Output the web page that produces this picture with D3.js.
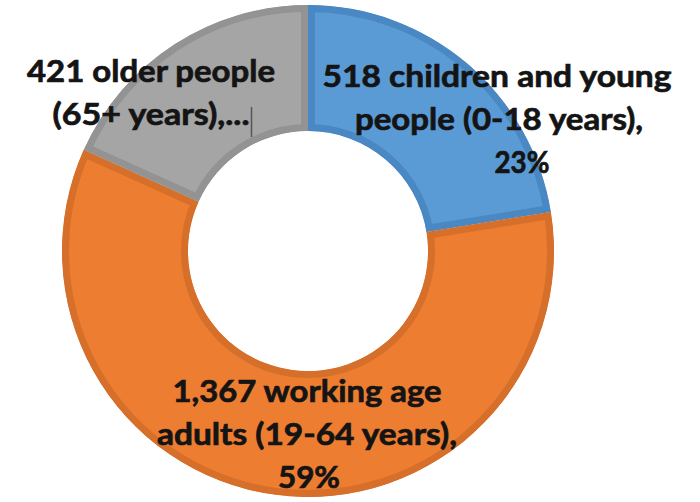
<!DOCTYPE html>
<html>
<head>
<meta charset="utf-8">
<script src="https://cdn.jsdelivr.net/npm/d3@7"></script>
<style>
  html, body { margin: 0; padding: 0; background: #ffffff; }
  svg { display: block; }
</style>
</head>
<body>
<svg id="chart" width="700" height="502"></svg>
<script>
// ---- data ----
const categories = ["children and young people (0-18 years)", "working age adults (19-64 years)", "older people (65+ years)"];
const values = [518, 1367, 421];
const labelLines = [
  ["518 children and young", "people (0-18 years),", "23%"],
  ["1,367 working age", "adults (19-64 years),", "59%"],
  ["421 older people", "(65+ years),..."]
];

// ---- styles / layout ----
const fills   = ["#5b9bd5", "#ed7d31", "#a5a5a5"];
const borders = ["#4a88c4", "#d56f2a", "#939393"];
const cx = 308, cy = 251, outerR = 246, innerR = 120, border = 7;
// label line anchors (center x, baseline y) and fitted widths
const labelLayout = [
  { x: [497, 499, 522], y: [87, 130, 173], w: [349, 288, 55] },
  { x: [307, 307, 309], y: [402, 445, 488], w: [269, 300, 62] },
  { x: [151, 151],      y: [82, 125],       w: [248, 197] }
];

const svg = d3.select("#chart");
const data = categories.map((c, i) => ({ category: c, value: values[i], i }));

const pie = d3.pie().value(d => d.value).sort(null).startAngle(0).endAngle(2 * Math.PI);
const arc = d3.arc().innerRadius(innerR).outerRadius(outerR);
const arcs = pie(data);

const g = svg.append("g").attr("transform", `translate(${cx},${cy})`);
const defs = svg.append("defs");

arcs.forEach((a, k) => {
  defs.append("clipPath").attr("id", "clip" + k)
    .append("path").attr("d", arc(a));
});

g.selectAll("path.slice")
  .data(arcs)
  .join("path")
  .attr("class", "slice")
  .attr("d", arc)
  .attr("fill", d => fills[d.data.i])
  .attr("stroke", d => borders[d.data.i])
  .attr("stroke-width", border * 2)
  .attr("stroke-linejoin", "miter")
  .attr("clip-path", (d, k) => `url(#clip${k})`);

// ---- labels ----
const labels = svg.append("g")
  .attr("font-family", "Lato, 'Open Sans', sans-serif")
  .attr("font-weight", "bold")
  .attr("font-size", 31)
  .attr("fill", "#141414")
  .attr("stroke", "#141414")
  .attr("stroke-width", 0.7);

labelLines.forEach((lines, i) => {
  const L = labelLayout[i];
  lines.forEach((t, j) => {
    labels.append("text")
      .attr("x", L.x[j])
      .attr("y", L.y[j])
      .attr("text-anchor", "middle")
      .attr("textLength", L.w[j])
      .attr("lengthAdjust", "spacingAndGlyphs")
      .text(t);
  });
});

// text-cursor artefact after the truncated label
const last = labelLayout[2];
svg.append("line")
  .attr("x1", last.x[1] + last.w[1] / 2 + 2).attr("x2", last.x[1] + last.w[1] / 2 + 2)
  .attr("y1", last.y[1] - 18).attr("y2", last.y[1] + 12)
  .attr("stroke", "#555").attr("stroke-width", 1.5);
</script>
</body>
</html>
